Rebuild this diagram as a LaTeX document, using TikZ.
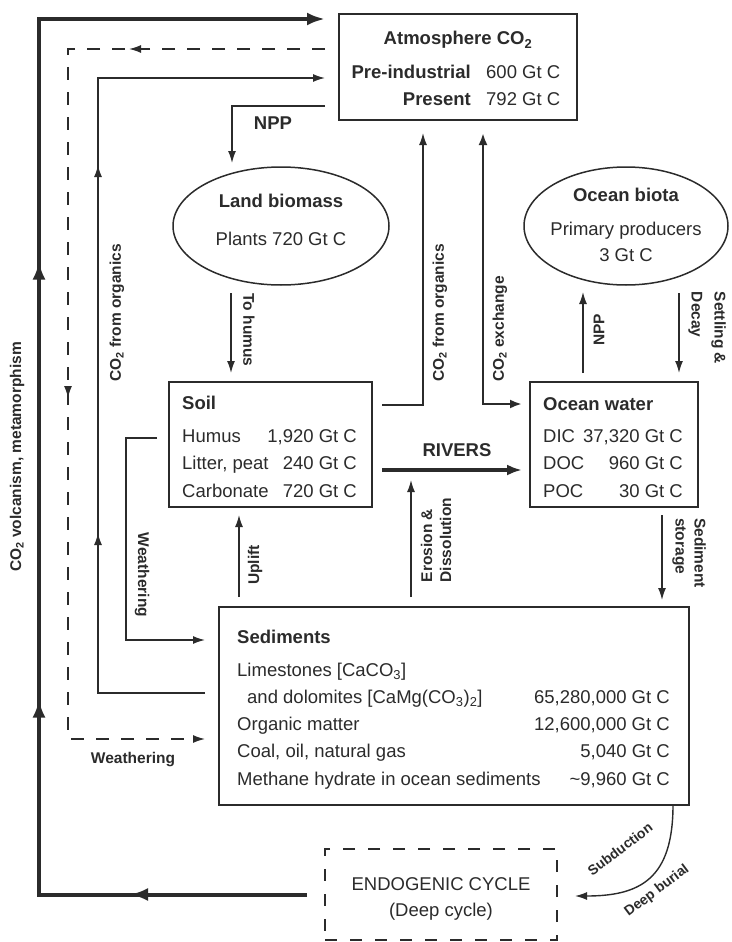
\documentclass[tikz,border=0pt]{standalone}
\usepackage{fontspec}
\setmainfont{Liberation Sans}
\usetikzlibrary{arrows.meta,shapes.geometric,calc,decorations.markings}

\definecolor{ink}{gray}{0.17}

\tikzset{
  pool/.style={draw=ink, line width=1.5pt, inner sep=0pt, outer sep=0pt},
  txt/.style={text=ink, inner sep=0pt, font=\fontsize{18.5}{22}\selectfont},
  hd/.style={text=ink, inner sep=0pt, font=\fontsize{18.5}{22}\selectfont\bfseries},
  lbl/.style={text=ink, inner sep=0pt, font=\fontsize{15.5}{19}\selectfont\bfseries},
  flow/.style={draw=ink, line width=1.4pt, -{Latex[length=12pt,width=8pt]}},
  bigflow/.style={draw=ink, line width=4pt, -{Latex[length=18pt,width=13pt]}},
  midtip/.style={postaction={decorate, decoration={markings,
      mark=at position #1 with {\arrow{Latex[length=12pt,width=8pt]}}}}},
  bigmidtip/.style={postaction={decorate, decoration={markings,
      mark=at position #1 with {\arrow{Latex[length=18pt,width=13pt]}}}}},
}

\begin{document}
\begin{tikzpicture}[x=1pt,y=-1pt]
  \useasboundingbox (0,0) rectangle (731,942);

  % pools
  \node[pool, minimum width=238pt, minimum height=106pt] (atm) at (458,67) {};
  \node[pool, ellipse, minimum width=216pt, minimum height=118pt] (land) at (281,226) {};
  \node[pool, ellipse, minimum width=204pt, minimum height=118pt] (biota) at (626,226) {};
  \node[pool, minimum width=203pt, minimum height=125pt] (soil) at (270.5,444.5) {};
  \node[pool, minimum width=168pt, minimum height=125pt] (water) at (614,444.5) {};
  \node[pool, minimum width=470pt, minimum height=198pt] (sed) at (454,706) {};
  \node[pool, dash pattern=on 12pt off 13pt, minimum width=232pt, minimum height=91pt] (endo) at (441,894.5) {};

  % atmosphere
  \node[hd, anchor=base] (atm-t) at (458,45) {Atmosphere CO\textsubscript{2}};
  \node[hd, anchor=base east] (atm-pi) at (471,78) {Pre-industrial};
  \node[txt, anchor=base west] (atm-piv) at (486,78) {600 Gt C};
  \node[hd, anchor=base east] (atm-pr) at (471,105) {Present};
  \node[txt, anchor=base west] (atm-prv) at (486,105) {792 Gt C};

  % biomass
  \node[hd, anchor=base] (land-t) at (281,207) {Land biomass};
  \node[txt, anchor=base] (land-v) at (281,245) {Plants 720 Gt C};
  \node[hd, anchor=base] (biota-t) at (626,201) {Ocean biota};
  \node[txt, anchor=base] (biota-a) at (626,235) {Primary producers};
  \node[txt, anchor=base] (biota-v) at (626,261) {3 Gt C};

  % soil
  \node[hd, anchor=base west] (soil-t) at (182,409) {Soil};
  \node[txt, anchor=base west] (soil-a) at (182,442) {Humus};
  \node[txt, anchor=base west] (soil-b) at (182,469) {Litter, peat};
  \node[txt, anchor=base west] (soil-c) at (182,497) {Carbonate};
  \node[txt, anchor=base east] (soil-av) at (357,442) {1,920 Gt C};
  \node[txt, anchor=base east] (soil-bv) at (357,469) {240 Gt C};
  \node[txt, anchor=base east] (soil-cv) at (357,497) {720 Gt C};

  % ocean water
  \node[hd, anchor=base west] (water-t) at (543,410) {Ocean water};
  \node[txt, anchor=base west] (water-a) at (543,442) {DIC};
  \node[txt, anchor=base west] (water-b) at (543,469) {DOC};
  \node[txt, anchor=base west] (water-c) at (543,497) {POC};
  \node[txt, anchor=base east] (water-av) at (683,442) {37,320 Gt C};
  \node[txt, anchor=base east] (water-bv) at (683,469) {960 Gt C};
  \node[txt, anchor=base east] (water-cv) at (683,497) {30 Gt C};

  % sediments
  \node[hd, anchor=base west] (sed-t) at (237,643) {Sediments};
  \node[txt, anchor=base west] (sed-a) at (237,676) {Limestones [CaCO\textsubscript{3}]};
  \node[txt, anchor=base west] (sed-b) at (247,703) {and dolomites [CaMg(CO\textsubscript{3})\textsubscript{2}]};
  \node[txt, anchor=base west] (sed-c) at (237,730) {Organic matter};
  \node[txt, anchor=base west] (sed-d) at (237,757) {Coal, oil, natural gas};
  \node[txt, anchor=base west] (sed-e) at (237,785) {Methane hydrate in ocean sediments};
  \node[txt, anchor=base east] (sed-bv) at (670,703) {65,280,000 Gt C};
  \node[txt, anchor=base east] (sed-cv) at (670,730) {12,600,000 Gt C};
  \node[txt, anchor=base east] (sed-dv) at (670,757) {5,040 Gt C};
  \node[txt, anchor=base east] (sed-ev) at (670,785) {\textasciitilde 9,960 Gt C};

  % deep cycle
  \node[txt, anchor=base] (endo-t) at (441,890) {ENDOGENIC CYCLE};
  \node[txt, anchor=base] (endo-s) at (441,916) {(Deep cycle)};

  % fluxes
  \coordinate (volc-b) at (39,894.5);
  \coordinate (volc-t) at (39,19);
  \draw[bigflow, bigmidtip=177pt, bigmidtip=463pt, bigmidtip=901pt]
    ($(endo.west)+(-18,0)$) -- (volc-b) -- (volc-t) -- ($(atm.west |- volc-t)+(-14,0)$);
  \coordinate (wd-t) at (68,49);
  \coordinate (wd-b) at (68,739);
  \draw[flow, dash pattern=on 13pt off 12pt, midtip=196pt, midtip=606pt]
    ($(atm.west |- wd-t)+(-14,0)$) -- (wd-t) -- (wd-b) -- ($(sed.west |- wd-b)+(-14,0)$);
  \coordinate (ol-b) at (98,693);
  \coordinate (ol-t) at (98,78);
  \draw[flow, midtip=267pt, midtip=635pt]
    ($(sed.west |- ol-b)+(-14,0)$) -- (ol-b) -- (ol-t) -- ($(atm.west |- ol-t)+(-14,0)$);
  \coordinate (ws-t) at (126,438);
  \coordinate (ws-b) at (126,640);
  \draw[flow] ($(soil.west |- ws-t)+(-12,0)$) -- (ws-t) -- (ws-b) -- ($(sed.west |- ws-b)+(-14,0)$);
  \coordinate (npp-c) at (232,106);
  \draw[flow] ($(atm.west |- npp-c)+(-14,0)$) -- (npp-c) -- ($(npp-c |- land.north)+(0,-4)$);
  \draw[flow] ($(land.south)+(-50,8)$) -- ($(soil.north)+(-39.5,-9)$);
  \coordinate (or-c) at (423,405);
  \draw[flow] ($(soil.east |- or-c)+(10,0)$) -- (or-c) -- ($(or-c |- atm.south)+(0,13)$);
  \coordinate (ex-c) at (483,404);
  \draw[flow, {Latex[length=12pt,width=9pt]}-{Latex[length=12pt,width=9pt]}, line width=2.5pt]
    ($(ex-c |- atm.south)+(0,13)$) -- (ex-c) -- ($(water.west |- ex-c)+(-8,0)$);
  \draw[flow, line width=3.5pt, -{Latex[length=15pt,width=11pt]}]
    ($(soil.east)+(10,25.5)$) -- ($(water.west)+(-8,25.5)$);
  \coordinate (ero) at (411,480);
  \draw[flow] ($(sed.north -| ero)+(0,-10)$) -- (ero);
  \draw[flow] ($(sed.north)+(-215,-10)$) -- ($(soil.south)+(-31.5,8)$);
  \draw[flow] ($(water.north)+(-31,-9)$) -- ($(biota.south)+(-43,7)$);
  \draw[flow] ($(biota.south)+(53,8)$) -- ($(water.north)+(65,-9)$);
  \draw[flow] ($(water.south)+(48,8)$) -- ($(sed.north)+(208,-7)$);
  \draw[flow] ($(sed.south)+(219,0)$) .. controls +(0,74) and +(65,0) .. ($(endo.east)+(18,1.5)$);

  % flux labels
  \node[lbl, rotate=90] (l-volc) at (17,457) {CO\textsubscript{2} volcanism, metamorphism};
  \node[lbl, rotate=90] (l-orgl) at (117,313) {CO\textsubscript{2} from organics};
  \node[lbl, rotate=-90] (l-weal) at (142,575) {Weathering};
  \node[lbl] (l-weab) at (133,760) {Weathering};
  \node[hd] (l-npp) at (273,123) {NPP};
  \node[lbl, rotate=-90] (l-hum) at (249,330) {To humus};
  \node[lbl, rotate=90] (l-orgr) at (440,313) {CO\textsubscript{2} from organics};
  \node[lbl, rotate=90] (l-exch) at (500,329) {CO\textsubscript{2} exchange};
  \node[lbl, rotate=90] (l-nppo) at (599,330) {NPP};
  \node[lbl, rotate=-90, align=left] (l-sett) at (707,328) {Settling \&\\[4pt]Decay};
  \node[hd] (l-riv) at (457,450) {RIVERS};
  \node[lbl, rotate=90, align=left] (l-ero) at (436,540) {Erosion \&\\Dissolution};
  \node[lbl, rotate=90] (l-upl) at (255,565) {Uplift};
  \node[lbl, rotate=-90, align=left] (l-stor) at (689,553) {Sediment\\storage};
  \node[lbl, rotate=37, font=\fontsize{14}{17}\selectfont\bfseries] (l-subd) at (620,849) {Subduction};
  \node[lbl, rotate=37, font=\fontsize{14}{17}\selectfont\bfseries] (l-deep) at (657,891) {Deep burial};
\end{tikzpicture}
\end{document}
